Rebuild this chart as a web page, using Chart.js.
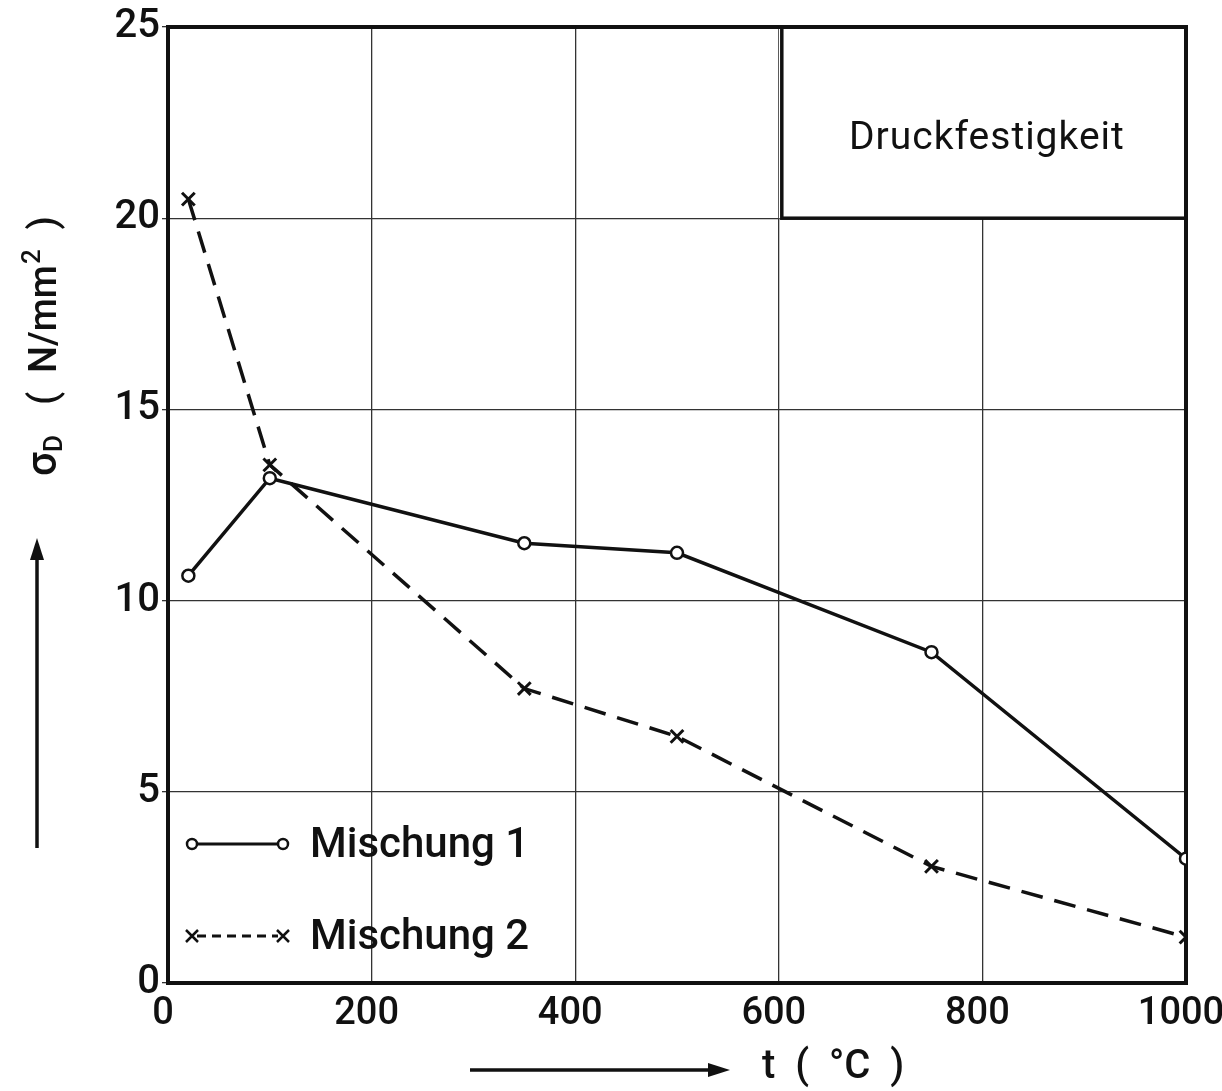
<!DOCTYPE html>
<html>
<head>
<meta charset="utf-8">
<title>Druckfestigkeit</title>
<script src="https://cdn.jsdelivr.net/npm/chart.js@4.4.0/dist/chart.umd.min.js"></script>
<style>
  html, body { margin: 0; padding: 0; background: #fff; }
  #wrap { width: 1222px; height: 1091px; }
</style>
</head>
<body>
<div id="wrap"><canvas id="chart" width="1222" height="1091"></canvas></div>
<script>
// temperatures (°C) and compressive strength (N/mm²)
const temps = [20, 100, 350, 500, 750, 1000];
const mischung1 = [10.65, 13.2, 11.5, 11.25, 8.65, 3.25];
const mischung2 = [20.5, 13.55, 7.7, 6.45, 3.05, 1.2];
const xTicks = [0, 200, 400, 600, 800, 1000];
const yTicks = [0, 5, 10, 15, 20, 25];
const seriesNames = ['Mischung 1', 'Mischung 2'];
const boxLabel = 'Druckfestigkeit';

const FONT = 'Roboto, "DejaVu Sans", sans-serif';
const INK = '#111';

function pts(ys) {
  return temps.map((t, i) => ({ x: t, y: ys[i] }));
}

// frame, grid cover and the title box in the upper right corner
const framePlugin = {
  id: 'frame',
  beforeDatasetsDraw(chart) {
    const { ctx, chartArea: a, scales } = chart;
    const bx = scales.x.getPixelForValue(600) + 3;
    const by = scales.y.getPixelForValue(20);
    ctx.save();
    ctx.fillStyle = '#fff';
    ctx.fillRect(bx - 3, a.top, a.right - bx + 3, by - a.top);
    ctx.strokeStyle = INK;
    ctx.lineWidth = 3.5;
    ctx.strokeRect(bx, a.top, a.right - bx, by - a.top);
    ctx.lineWidth = 4;
    ctx.strokeRect(a.left, a.top, a.right - a.left, a.bottom - a.top);
    ctx.fillStyle = INK;
    ctx.font = '39px ' + FONT;
    ctx.textAlign = 'center';
    ctx.textBaseline = 'middle';
    if ('letterSpacing' in ctx) ctx.letterSpacing = '1px';
    ctx.fillText(boxLabel, (bx + a.right) / 2 + 3, (a.top + by) / 2 + 17);
    ctx.restore();
  }
};

function marker(ctx, style, x, y) {
  ctx.save();
  ctx.beginPath();
  ctx.lineWidth = 2.5;
  if (style === 'circle') {
    ctx.arc(x, y, 5, 0, Math.PI * 2);
    ctx.fillStyle = '#fff';
    ctx.fill();
    ctx.stroke();
  } else {
    const r = 6;
    ctx.moveTo(x - r, y - r); ctx.lineTo(x + r, y + r);
    ctx.moveTo(x + r, y - r); ctx.lineTo(x - r, y + r);
    ctx.stroke();
  }
  ctx.restore();
}

// legend rows, axis titles and arrows
const labelsPlugin = {
  id: 'labels',
  afterDraw(chart) {
    const ctx = chart.ctx;
    ctx.save();
    ctx.strokeStyle = INK;
    ctx.fillStyle = INK;

    // legend
    const rows = [
      { y: 844, style: 'circle', dash: [] },
      { y: 936, style: 'cross', dash: [9, 6] }
    ];
    chart.data.datasets.forEach((ds, i) => {
      const r = rows[i];
      ctx.lineWidth = 3;
      ctx.setLineDash(r.dash);
      ctx.beginPath();
      ctx.moveTo(197, r.y);
      ctx.lineTo(278, r.y);
      ctx.stroke();
      ctx.setLineDash([]);
      marker(ctx, r.style, 192, r.y);
      marker(ctx, r.style, 283, r.y);
      ctx.fillStyle = INK;
      ctx.font = '500 42px ' + FONT;
      ctx.textAlign = 'left';
      ctx.textBaseline = 'middle';
      ctx.fillText(ds.label, 310, r.y + 2);
    });

    // x axis title with arrow
    ctx.fillStyle = INK;
    ctx.lineWidth = 3.5;
    ctx.beginPath();
    ctx.moveTo(470, 1070);
    ctx.lineTo(712, 1070);
    ctx.stroke();
    ctx.beginPath();
    ctx.moveTo(730, 1070);
    ctx.lineTo(708, 1063);
    ctx.lineTo(708, 1077);
    ctx.closePath();
    ctx.fill();
    ctx.font = '500 40px ' + FONT;
    ctx.textAlign = 'left';
    ctx.textBaseline = 'middle';
    ctx.fillText('t  (  °C  )', 762, 1068);

    // y axis title with arrow
    ctx.beginPath();
    ctx.moveTo(37, 848);
    ctx.lineTo(37, 556);
    ctx.stroke();
    ctx.beginPath();
    ctx.moveTo(37, 538);
    ctx.lineTo(30, 560);
    ctx.lineTo(44, 560);
    ctx.closePath();
    ctx.fill();

    ctx.translate(56, 476);
    ctx.rotate(-Math.PI / 2);
    ctx.textBaseline = 'alphabetic';
    ctx.font = '500 42px ' + FONT;
    let x = 0;
    ctx.fillText('σ', x, 0);
    x += ctx.measureText('σ').width;
    ctx.font = '500 26px ' + FONT;
    ctx.fillText('D', x, 6);
    x += ctx.measureText('D').width + 30;
    ctx.font = '500 38px ' + FONT;
    const part = '(  N/mm';
    ctx.fillText(part, x, 0);
    x += ctx.measureText(part).width;
    ctx.font = '500 26px ' + FONT;
    ctx.fillText('2', x + 1, -16);
    x += ctx.measureText('2').width + 2;
    ctx.font = '500 38px ' + FONT;
    ctx.fillText('  )', x, 0);
    ctx.restore();
  }
};

new Chart(document.getElementById('chart'), {
  type: 'scatter',
  data: {
    datasets: [
      {
        label: seriesNames[0],
        data: pts(mischung1),
        showLine: true,
        borderColor: INK,
        borderWidth: 3.5,
        pointStyle: 'circle',
        pointRadius: 6,
        pointBorderWidth: 2.5,
        pointBackgroundColor: '#fff',
        pointBorderColor: INK
      },
      {
        label: seriesNames[1],
        data: pts(mischung2),
        showLine: true,
        borderColor: INK,
        borderWidth: 3.5,
        borderDash: [22, 12],
        pointStyle: 'crossRot',
        pointRadius: 9,
        pointBorderWidth: 3,
        pointBorderColor: INK
      }
    ]
  },
  options: {
    responsive: false,
    animation: false,
    layout: { padding: { top: 27, right: 36, left: 0, bottom: 0 } },
    plugins: {
      legend: { display: false },
      tooltip: { enabled: false }
    },
    scales: {
      x: {
        type: 'linear',
        min: 0,
        max: 1000,
        afterBuildTicks: s => { s.ticks = xTicks.map(v => ({ value: v })); },
        afterFit: s => { s.height = 108; s.paddingLeft = 0; s.paddingRight = 0; },
        border: { display: false },
        grid: { color: '#333', lineWidth: 1.3, tickLength: 0 },
        ticks: {
          color: INK,
          font: { family: FONT, size: 38, weight: 500 },
          padding: 9,
          labelOffset: -5,
          maxRotation: 0,
          callback: v => String(v)
        }
      },
      y: {
        type: 'linear',
        min: 0,
        max: 25,
        afterBuildTicks: s => { s.ticks = yTicks.map(v => ({ value: v })); },
        afterFit: s => { s.width = 168; s.paddingTop = 0; s.paddingBottom = 0; },
        border: { display: false },
        grid: { color: '#333', lineWidth: 1.3, tickLength: 6 },
        ticks: {
          color: INK,
          font: { family: FONT, size: 40, weight: 500 },
          padding: 2
        }
      }
    }
  },
  plugins: [framePlugin, labelsPlugin]
});
</script>
</body>
</html>
